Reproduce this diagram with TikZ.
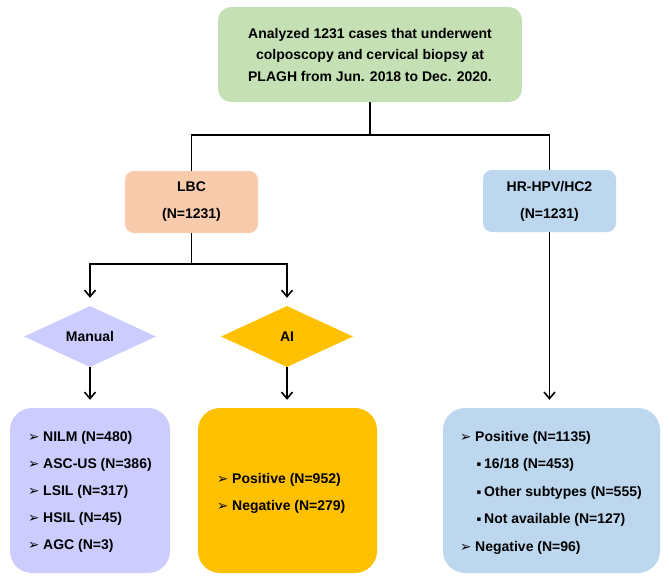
\documentclass[tikz,border=0pt]{standalone}
\usepackage{fontspec}
\setmainfont{Liberation Sans}
\newfontfamily\symfont{DejaVu Sans}
\usetikzlibrary{shapes.geometric,arrows.meta}
\definecolor{cgreen}{HTML}{C5E0B4}
\definecolor{cpeach}{HTML}{F8CBAD}
\definecolor{cblue}{HTML}{BDD7EE}
\definecolor{clav}{HTML}{CCCCFF}
\definecolor{cgold}{HTML}{FFC000}
\newcommand{\arrb}{\makebox[15pt][l]{\raisebox{-0.3pt}{\symfont\fontsize{13.5}{13.5}\selectfont ➢}}}
\newcommand{\sqb}{\makebox[7.5pt][l]{\raisebox{2pt}{\symfont\fontsize{7}{7}\selectfont ▪}}}
\begin{document}
\begin{tikzpicture}[x=1pt,y=-1pt,
  box/.style={rectangle, draw=none, inner sep=0pt, align=center,
    font=\fontsize{14}{27}\selectfont\bfseries},
  dia/.style={diamond, draw=none, inner sep=0pt, minimum width=132pt, minimum height=61pt,
    font=\fontsize{14}{16}\selectfont\bfseries},
  item/.style={anchor=west, inner sep=0pt, font=\fontsize{14}{16}\selectfont\bfseries},
  conn/.style={line width=1.6pt, black},
  arr/.style={conn, -{Straight Barb[length=6.5pt,width=11pt,line width=1.6pt]}, shorten >=8pt}]
\useasboundingbox (0,0) rectangle (669,581);
% boxes
\node[box, fill=cgreen, rounded corners=13pt, minimum width=304pt, minimum height=95pt,
  font=\fontsize{14}{21.5}\selectfont\bfseries] (top) at (370,54.5)
  {Analyzed 1231 cases that underwent\\colposcopy and cervical biopsy at\\PLAGH from Jun. 2018 to Dec. 2020.};
\node[box, fill=cpeach, rounded corners=9pt, minimum width=133pt, minimum height=62pt] (lbc) at (191.5,202) {LBC\\(N=1231)};
\node[box, fill=cblue, rounded corners=9pt, minimum width=133pt, minimum height=62pt] (hpv) at (549.5,201) {HR-HPV/HC2\\(N=1231)};
\node[dia, fill=clav] (man) at (90,336.5) {Manual};
\node[dia, fill=cgold] (ai) at (287,336.5) {AI};
\node[box, fill=clav, rounded corners=22pt, minimum width=160pt, minimum height=165pt] (manbox) at (90,490.5) {};
\node[box, fill=cgold, rounded corners=22pt, minimum width=179pt, minimum height=165pt] (aibox) at (287.5,490.5) {};
\node[box, fill=cblue, rounded corners=22pt, minimum width=217pt, minimum height=165pt] (hpvbox) at (551.5,490.5) {};
% items
\node[item] (m1) at (28,438) {\arrb NILM (N=480)};
\node[item] (m2) at (28,465) {\arrb ASC-US (N=386)};
\node[item] (m3) at (28,492) {\arrb LSIL (N=317)};
\node[item] (m4) at (28,519) {\arrb HSIL (N=45)};
\node[item] (m5) at (28,546) {\arrb AGC (N=3)};
\node[item] (a1) at (217,480) {\arrb Positive (N=952)};
\node[item] (a2) at (217,507) {\arrb Negative (N=279)};
\node[item] (h1) at (460,438) {\arrb Positive (N=1135)};
\node[item] (h2) at (476.5,465) {\sqb 16/18 (N=453)};
\node[item] (h3) at (476.5,493) {\sqb Other subtypes (N=555)};
\node[item] (h4) at (476.5,520) {\sqb Not available (N=127)};
\node[item] (h5) at (460,548) {\arrb Negative (N=96)};
% connectors
\coordinate (j0) at ([yshift=-33pt]top.south);
\draw[conn] (top.south) -- (j0);
\draw[conn] (lbc.north) |- (j0) -| (hpv.north);
\coordinate (j1) at ([yshift=-31pt]lbc.south);
\draw[conn] (lbc.south) -- (j1);
\draw[arr] (j1) -| (man.north);
\draw[arr] (j1) -| (ai.north);
\draw[arr] (man.south) -- (man.south |- manbox.north);
\draw[arr] (ai.south) -- (ai.south |- aibox.north);
\draw[arr] (hpv.south) -- (hpv.south |- hpvbox.north);
\end{tikzpicture}
\end{document}
